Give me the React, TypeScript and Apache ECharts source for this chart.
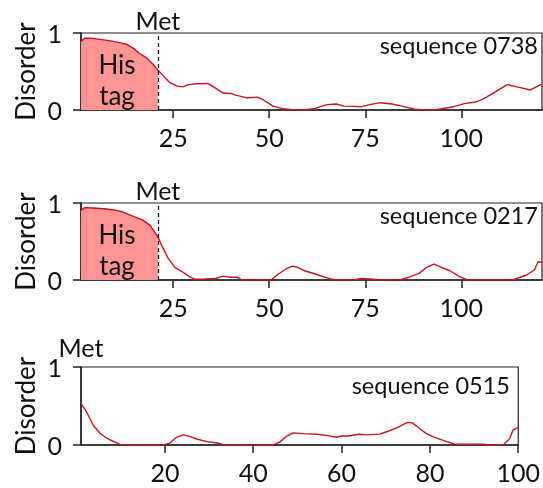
import React, { useEffect, useRef } from "react";
import * as echarts from "echarts";

// Disorder profiles: [residue, disorder]
const seq0738: [number, number][] = [
  [1, 0.89], [2, 0.935], [4, 0.93], [7, 0.91], [9, 0.895], [11, 0.875], [13, 0.85],
  [15, 0.79], [16, 0.74], [18, 0.68], [20, 0.58], [21, 0.52], [22.5, 0.44], [24, 0.36],
  [26, 0.31], [27.5, 0.3], [29, 0.33], [31, 0.34], [34, 0.345], [35.5, 0.3], [38, 0.22],
  [40, 0.215], [41.5, 0.19], [44, 0.16], [47, 0.165], [48.5, 0.13], [51, 0.05],
  [53.5, 0.017], [56, 0.004], [59, 0], [62, 0.02], [65, 0.07], [67.5, 0.078],
  [69.5, 0.05], [72, 0.047], [74, 0.043], [76.5, 0.073], [79, 0.095], [82, 0.078],
  [84.5, 0.05], [88, 0.01], [91, 0], [93.5, 0.004], [96, 0.026], [98, 0.043],
  [101, 0.086], [103.5, 0.1], [105.5, 0.138], [108, 0.21], [110, 0.27], [112, 0.33],
  [114.5, 0.3], [118, 0.26], [119.5, 0.3], [121, 0.336],
];

const seq0217: [number, number][] = [
  [1, 0.905], [2, 0.94], [4, 0.935], [7, 0.925], [10, 0.905], [11.5, 0.89], [14, 0.84],
  [17, 0.78], [19, 0.71], [20.5, 0.6], [21, 0.56], [22, 0.45], [23.7, 0.28],
  [25.5, 0.16], [27.3, 0.11], [29, 0.05], [30.5, 0.01], [33.5, 0.013], [36, 0.02],
  [38, 0.05], [40, 0.035], [41.7, 0.035], [42.7, 0.004], [44, 0], [50.5, 0],
  [52, 0.065], [54.3, 0.14], [56, 0.18], [57.4, 0.165], [59.2, 0.12], [62, 0.078],
  [64.6, 0.035], [66.4, 0.009], [68, 0], [72, 0], [74, 0.02], [77, 0.009], [79, 0],
  [84, 0], [86.8, 0.043], [89, 0.086], [90.8, 0.16], [92.9, 0.205], [95, 0.16],
  [97, 0.12], [99.3, 0.05], [101.6, 0], [113.3, 0], [117, 0.065], [119, 0.13],
  [120, 0.237], [121, 0.23],
];

const seq0515: [number, number][] = [
  [1, 0.535], [2.3, 0.42], [3.8, 0.25], [5.3, 0.15], [6.5, 0.1], [7.6, 0.064],
  [9, 0.03], [9.9, 0.005], [11, 0], [19.4, 0], [21, 0.02], [22.5, 0.094], [24.1, 0.13],
  [25.6, 0.11], [27.2, 0.077], [29.5, 0.043], [31.9, 0.026], [33.4, 0], [44.4, 0],
  [45.9, 0.034], [47.5, 0.11], [49, 0.155], [51.4, 0.146], [54.5, 0.137], [56.9, 0.12],
  [58.8, 0.1], [60, 0.116], [61.6, 0.116], [63.9, 0.137], [65.9, 0.13], [68.6, 0.14],
  [70.2, 0.17], [72.5, 0.22], [74.9, 0.29], [76.1, 0.28], [77.6, 0.215], [79.2, 0.146],
  [81.2, 0.094], [83.5, 0.05], [85.8, 0.009], [92, 0.009], [93.6, 0], [96.6, 0],
  [98.1, 0.085], [98.8, 0.19], [100, 0.225],
];

const sequenceNames = ["sequence 0738", "sequence 0217", "sequence 0515"];
const xMaxes = [121, 121, 100];
const xTicks = [
  [25, 50, 75, 100],
  [25, 50, 75, 100],
  [20, 40, 60, 80, 100],
];
const metPositions = [21, 21, 1];
const hasHisTag = [true, true, false];
const yTicks = [0, 1];

const FONT = "Lato, 'Noto Sans', sans-serif";
const LINE_COLOR = "#c8141e";
const FILL_COLOR = "#ff9494";
const INK = "#111";

const grids = [
  { left: 81, top: 33, width: 461, height: 77 },
  { left: 81, top: 203, width: 461, height: 77 },
  { left: 81, top: 367, width: 439, height: 78 },
];
const seqLabelPos = [
  { x: 538, y: 45 },
  { x: 538, y: 215 },
  { x: 510, y: 385 },
];
const metLabelDistance = [2, 2, 9];

export default function App() {
  const ref = useRef<HTMLDivElement>(null);

  useEffect(() => {
    if (!ref.current) return;
    const chart = echarts.init(ref.current, null, { renderer: "svg" });
    const datasets = [seq0738, seq0217, seq0515];

    const series: any[] = [];
    const graphic: any[] = [];

    datasets.forEach((data, i) => {
      const met = metPositions[i];
      if (hasHisTag[i]) {
        series.push({
          type: "line",
          xAxisIndex: i,
          yAxisIndex: i,
          data: data.filter((p) => p[0] <= met),
          symbol: "none",
          lineStyle: { width: 0 },
          areaStyle: { color: FILL_COLOR, opacity: 1 },
          z: 1,
          silent: true,
        });
      }
      series.push({
        type: "line",
        xAxisIndex: i,
        yAxisIndex: i,
        data,
        symbol: "none",
        lineStyle: { color: LINE_COLOR, width: 1.4 },
        z: 3,
        silent: true,
        markLine: {
          silent: true,
          symbol: "none",
          animation: false,
          lineStyle: {
            color: hasHisTag[i] ? "#000" : "rgba(0,0,0,0)",
            width: 1.2,
            type: [4, 3],
          },
          label: {
            show: true,
            formatter: "Met",
            position: "end",
            distance: metLabelDistance[i],
            fontFamily: FONT,
            fontSize: 25,
            lineHeight: 22,
            color: INK,
          },
          data: [{ xAxis: met }],
        },
      });

      const g = grids[i];
      graphic.push({
        type: "text",
        x: 25,
        y: g.top + g.height / 2,
        rotation: Math.PI / 2,
        style: {
          text: "Disorder",
          font: `26px ${FONT}`,
          fill: INK,
          align: "center",
          verticalAlign: "middle",
        },
      });
      graphic.push({
        type: "text",
        x: seqLabelPos[i].x,
        y: seqLabelPos[i].y,
        style: {
          text: sequenceNames[i],
          font: `23.5px ${FONT}`,
          fill: INK,
          align: "right",
          verticalAlign: "middle",
        },
        z: 10,
      });
      if (hasHisTag[i]) {
        graphic.push({
          type: "text",
          x: 117,
          y: g.top + 46,
          style: {
            text: "His\ntag",
            font: `26px ${FONT}`,
            lineHeight: 31,
            fill: INK,
            align: "center",
            verticalAlign: "middle",
          },
          z: 10,
        });
      }
    });

    const option: any = {
      animation: false,
      grid: grids.map((g) => ({
        ...g,
        show: true,
        borderColor: "#222",
        borderWidth: 1.2,
        backgroundColor: "transparent",
        containLabel: false,
      })),
      xAxis: grids.map((_, i) => ({
        type: "value",
        gridIndex: i,
        min: 1,
        max: xMaxes[i],
        splitLine: { show: false },
        axisLine: { show: true, onZero: false, lineStyle: { color: "#222", width: 1.5 } },
        axisTick: {
          show: true,
          length: 8,
          customValues: xTicks[i],
          lineStyle: { color: "#222", width: 1.5 },
        },
        axisLabel: {
          show: true,
          customValues: xTicks[i],
          margin: 14,
          fontFamily: FONT,
          fontSize: 25,
          color: INK,
          showMinLabel: true,
          showMaxLabel: true,
        },
      })),
      yAxis: grids.map((_, i) => ({
        type: "value",
        gridIndex: i,
        min: 0,
        max: 1,
        interval: 1,
        splitLine: { show: false },
        axisLine: { show: true, lineStyle: { color: "#222", width: 1.5 } },
        axisTick: {
          show: true,
          length: 8,
          customValues: yTicks,
          lineStyle: { color: "#222", width: 1.5 },
        },
        axisLabel: {
          show: true,
          customValues: yTicks,
          margin: 19,
          fontFamily: FONT,
          fontSize: 25,
          lineHeight: 18,
          color: INK,
        },
      })),
      series,
      graphic,
    };

    chart.setOption(option);
    return () => chart.dispose();
  }, []);

  return (
    <div
      ref={ref}
      style={{ position: "fixed", left: 0, top: 0, width: 543, height: 488 }}
    />
  );
}
